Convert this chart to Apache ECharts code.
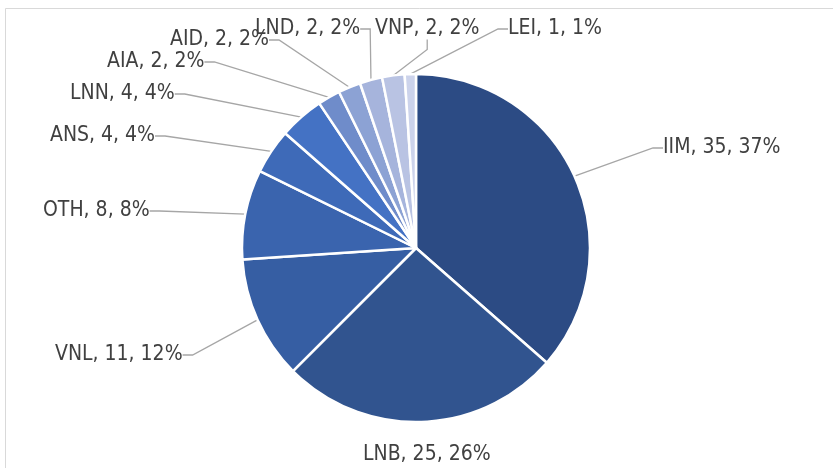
<!DOCTYPE html>
<html>
<head>
<meta charset="utf-8">
<script src="https://cdn.jsdelivr.net/npm/echarts@6/dist/echarts.min.js"></script>
<style>
  html, body { margin: 0; padding: 0; background: #fff; }
  #main { width: 833px; height: 468px; }
</style>
</head>
<body>
<div id="main"></div>
<script>
// 数据
var categories = ['IIM', 'LNB', 'VNL', 'OTH', 'ANS', 'LNN', 'AIA', 'AID', 'LND', 'VNP', 'LEI'];
var values = [35, 25, 11, 8, 4, 4, 2, 2, 2, 2, 1];

// 颜色 (深 -> 浅)
var colors = ['#2c4b84', '#31548f', '#365ea3', '#3a64ae', '#3e6ab8', '#4472c4',
  '#6f8cca', '#8ca2d4', '#a6b4dc', '#b9c3e3', '#ccd3eb'];

// 标签位置 (左 x, 中 y)
var labelPos = [
  [663, 148], [363, 455], [55, 355], [43, 211], [50, 136], [70, 94],
  [107, 62], [170, 40], [255, 29], [375, 29], [508, 29]
];

var chart = echarts.init(document.getElementById('main'), null, { renderer: 'canvas' });

var pieData = [];
for (var i = 0; i < categories.length; i++) {
  var item = { name: categories[i], value: values[i], itemStyle: { color: colors[i] } };
  if (i === 1) item.labelLine = { show: false };
  pieData.push(item);
}

var option = {
  backgroundColor: '#ffffff',
  animation: false,
  graphic: [{
    type: 'rect',
    shape: { x: 5.5, y: 8.5, width: 900, height: 600 },
    style: { fill: 'none', stroke: '#d9d9d9', lineWidth: 1 },
    silent: true,
    z: -1
  }],
  series: [{
    type: 'pie',
    center: [416, 248],
    radius: 174,
    startAngle: 90,
    clockwise: true,
    percentPrecision: 0,
    data: pieData,
    itemStyle: { borderColor: '#ffffff', borderWidth: 2.5 },
    label: {
      show: true,
      formatter: '{b}, {c}, {d}%',
      color: '#404040',
      fontSize: 21,
      fontFamily: '"DejaVu Sans Condensed", "Liberation Sans Narrow", sans-serif'
    },
    labelLine: {
      show: true,
      length: 10,
      length2: 10,
      lineStyle: { color: '#a6a6a6', width: 1.3 }
    },
    labelLayout: function (params) {
      var p = labelPos[params.dataIndex];
      return { x: p[0], y: p[1], align: 'left', verticalAlign: 'middle' };
    }
  }]
};

chart.setOption(option);
</script>
</body>
</html>
